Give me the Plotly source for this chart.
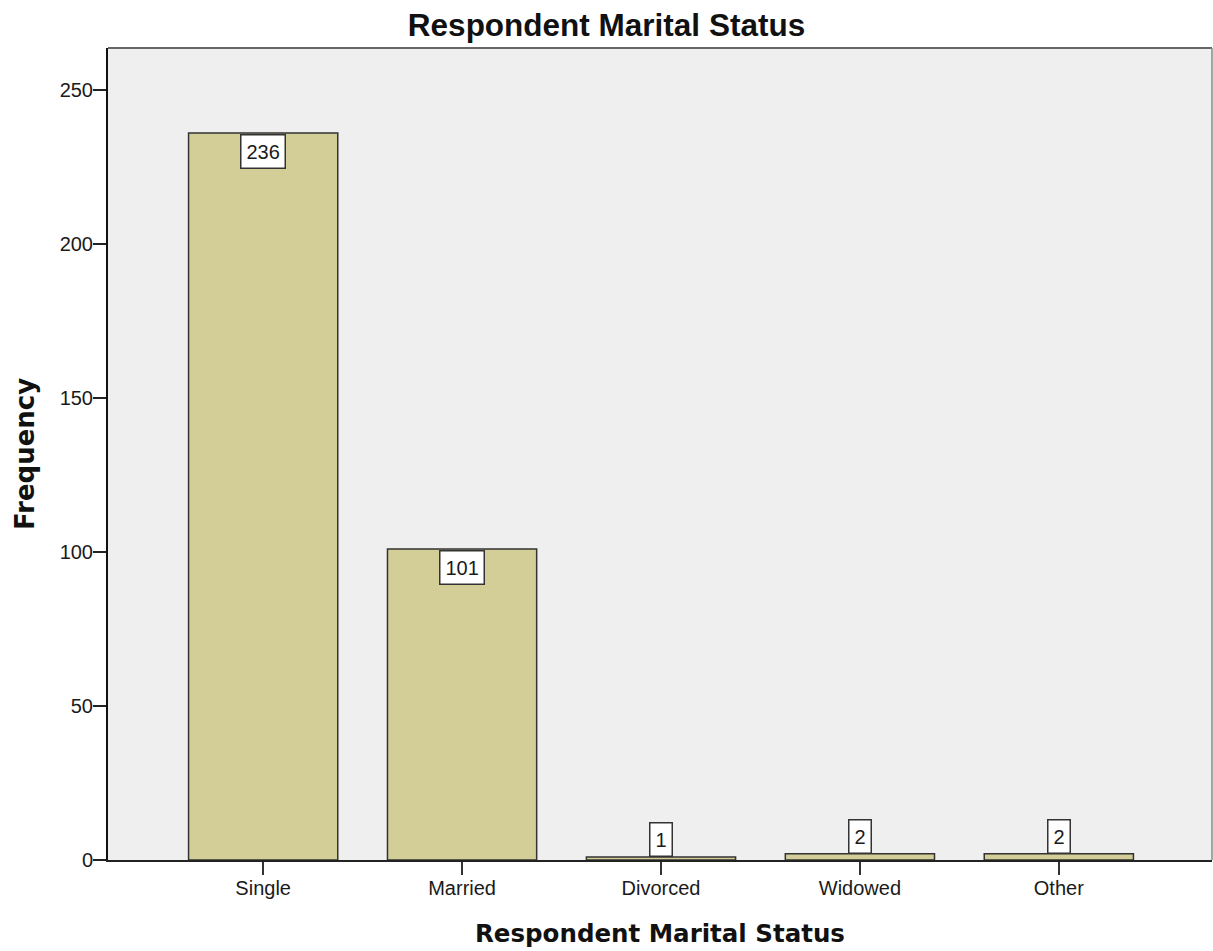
import plotly.graph_objects as go

# Marital status frequencies
categories = ["Single", "Married", "Divorced", "Widowed", "Other"]
frequencies = [236, 101, 1, 2, 2]
y_ticks = [0, 50, 100, 150, 200, 250]

BAR_FILL = "#D3CE97"
BAR_EDGE = "#333333"
PLOT_BG = "#EFEFEF"
LABEL_FONT = dict(family="Liberation Sans, Arial, sans-serif", size=20, color="#1a1a1a")
AXIS_TITLE_FONT = dict(family="DejaVu Sans, Verdana, sans-serif", size=24.5, color="#111111")

fig = go.Figure()
fig.add_trace(go.Bar(
    x=categories,
    y=frequencies,
    width=0.75,
    marker=dict(color=BAR_FILL, line=dict(color=BAR_EDGE, width=1.5)),
    hoverinfo="x+y",
))

# Value boxes: inside the top of tall bars, sitting on top of short ones
annotations = []
for cat, val in zip(categories, frequencies):
    inside = val > 20
    annotations.append(dict(
        x=cat, y=val, xref="x", yref="y",
        text=str(val), showarrow=False,
        yanchor="top" if inside else "bottom",
        yshift=-1 if inside else 0,
        bgcolor="white", bordercolor="#333333", borderwidth=1.5, borderpad=5,
        font=LABEL_FONT,
    ))

# Axis titles
annotations.append(dict(
    x=0.5, y=0, xref="paper", yref="paper", yanchor="middle",
    yshift=-73, showarrow=False, text="<b>Respondent Marital Status</b>",
    font=AXIS_TITLE_FONT,
))
annotations.append(dict(
    x=0, y=0.5, xref="paper", yref="paper", xanchor="center",
    xshift=-83, showarrow=False, text="<b>Frequency</b>", textangle=-90,
    font=dict(family="DejaVu Sans, Verdana, sans-serif", size=26, color="#111111"),
))

fig.update_layout(
    width=1213, height=951,
    margin=dict(l=108, r=1, t=48, b=91),
    paper_bgcolor="white",
    plot_bgcolor=PLOT_BG,
    showlegend=False,
    bargap=0.25,
    title=dict(
        text="<b>Respondent Marital Status</b>",
        x=0.5, xref="container", xanchor="center",
        y=1 - 25 / 951, yref="container", yanchor="middle",
        font=dict(family="Liberation Sans, Arial, sans-serif", size=31.5, color="#111111"),
    ),
    xaxis=dict(
        range=[-0.78, 4.77],
        showgrid=False, zeroline=False,
        showline=True, linecolor="#222222", linewidth=2,
        ticks="outside", ticklen=13, tickwidth=2, tickcolor="#333333",
        ticklabelstandoff=-4,
        tickfont=LABEL_FONT,
    ),
    yaxis=dict(
        range=[0, 263.6],
        tickvals=y_ticks,
        showgrid=False, zeroline=False,
        showline=True, linecolor="#111111", linewidth=2,
        ticks="outside", ticklen=13, tickwidth=2, tickcolor="#222222",
        ticklabelstandoff=-4,
        tickfont=LABEL_FONT,
    ),
    annotations=annotations,
    shapes=[
        # top and right edges of the frame
        dict(type="line", xref="paper", yref="paper", x0=0, x1=1, y0=1, y1=1,
             line=dict(color="#666666", width=2)),
        dict(type="line", xref="paper", yref="paper", x0=1, x1=1, y0=0, y1=1,
             line=dict(color="#888888", width=1.5)),
    ],
)

fig.write_html("out.html")
